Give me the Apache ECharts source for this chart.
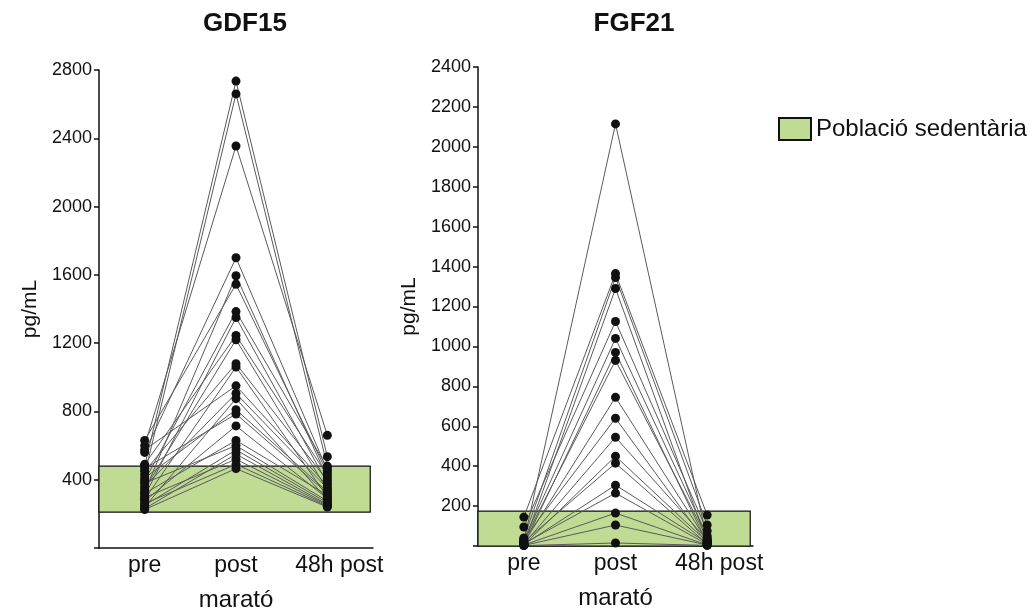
<!DOCTYPE html>
<html>
<head>
<meta charset="utf-8">
<script src="https://cdn.jsdelivr.net/npm/echarts@6/dist/echarts.min.js"></script>
<style>
  html, body { margin: 0; padding: 0; background: #fff; }
  #chart { width: 1033px; height: 611px; }
</style>
</head>
<body>
<div id="chart"></div>
<script>
const categories = ['pre', 'post', '48h post']

// GDF15, one entry per runner
const gdfPre  = [480, 430, 600, 560, 330, 630, 395, 305, 490, 345, 450, 285, 575, 360, 240, 410, 465, 275, 320, 380, 250, 230, 295, 260, 225]
const gdfPost = [2735, 2660, 2355, 1700, 1595, 1545, 1385, 1350, 1245, 1220, 1080, 1060, 950, 905, 875, 810, 785, 715, 630, 600, 575, 550, 520, 490, 465]
const gdfH48  = [535, 480, 660, 455, 410, 440, 470, 380, 425, 340, 395, 300, 365, 350, 285, 330, 320, 290, 310, 275, 265, 255, 250, 245, 240]
const gdfRef  = [210, 480]

// FGF21
const fgfPre  = [20, 145, 40, 10, 95, 30, 5, 25, 15, 35, 10, 5, 20, 8, 12, 5, 3, 2]
const fgfPost = [2115, 1365, 1345, 1290, 1125, 1040, 970, 930, 745, 640, 545, 450, 415, 305, 265, 165, 105, 15]
const fgfH48  = [30, 155, 105, 20, 75, 50, 15, 40, 25, 10, 30, 20, 10, 15, 8, 5, 5, 3]
const fgfRef  = [0, 175]

const FONT = 'Liberation Sans, Arial, sans-serif'
const GREEN = '#bfdb94'
const REF_NAME = 'Població sedentària'

const chart = echarts.init(document.getElementById('chart'))

function xAxis(gridIndex) {
  return {
    type: 'value',
    gridIndex: gridIndex,
    min: -0.5,
    max: 2.5,
    axisLine: { show: true, onZero: false, lineStyle: { color: '#111', width: 1.5 } },
    axisTick: { show: false },
    splitLine: { show: false },
    name: 'marató',
    nameLocation: 'middle',
    nameGap: 40,
    nameTextStyle: { fontFamily: FONT, fontSize: 24, color: '#111' },
    axisLabel: {
      customValues: [0, 1, 2],
      margin: 6,
      fontFamily: FONT,
      fontSize: 23,
      color: '#111',
      formatter: v => {
        const name = categories[Math.round(v)]
        return name === '48h post' ? '{s|' + name + '}' : name
      },
      rich: { s: { fontFamily: FONT, fontSize: 23, color: '#111', padding: [0, 0, 0, 24] } }
    }
  }
}

function yAxis(gridIndex, max, interval) {
  return {
    type: 'value',
    gridIndex: gridIndex,
    min: 0,
    max: max,
    interval: interval,
    axisLine: { show: true, onZero: false, lineStyle: { color: '#111', width: 1.5 } },
    axisTick: { show: true, length: 5, lineStyle: { color: '#111', width: 1.5 } },
    splitLine: { show: false },
    name: 'pg/mL',
    nameLocation: 'middle',
    nameGap: 58,
    nameTextStyle: { fontFamily: FONT, fontSize: 21, color: '#111' },
    axisLabel: {
      margin: 7,
      fontFamily: FONT,
      fontSize: 18,
      color: '#111',
      formatter: v => (v === 0 ? '' : String(v))
    }
  }
}

function subjectSeries(pre, post, h48, idx) {
  return pre.map((p, i) => ({
    type: 'line',
    xAxisIndex: idx,
    yAxisIndex: idx,
    z: 3,
    silent: true,
    symbol: 'circle',
    symbolSize: 9,
    itemStyle: { color: '#111' },
    lineStyle: { color: '#5a5a5a', width: 1 },
    data: [[0, p], [1, post[i]], [2, h48[i]]]
  }))
}

function refSeries(range, idx) {
  return {
    name: REF_NAME,
    type: 'line',
    xAxisIndex: idx,
    yAxisIndex: idx,
    z: 1,
    data: [],
    itemStyle: { color: GREEN },
    markArea: {
      silent: true,
      itemStyle: { color: GREEN, borderColor: '#111', borderWidth: 1.2 },
      data: [[{ xAxis: -0.5, yAxis: range[0] }, { xAxis: 2.47, yAxis: range[1] }]]
    }
  }
}

const option = {
  animation: false,
  title: [
    { text: 'GDF15', left: 240, top: 6, textAlign: 'center', textStyle: { fontFamily: FONT, fontSize: 26, fontWeight: 'bold', color: '#111' } },
    { text: 'FGF21', left: 629, top: 6, textAlign: 'center', textStyle: { fontFamily: FONT, fontSize: 26, fontWeight: 'bold', color: '#111' } }
  ],
  legend: {
    left: 778,
    top: 117,
    padding: 0,
    itemWidth: 32,
    itemHeight: 22,
    itemGap: 10,
    textStyle: { fontFamily: FONT, fontSize: 24, color: '#111' },
    data: [{ name: REF_NAME, icon: 'rect', itemStyle: { color: GREEN, borderColor: '#111', borderWidth: 2 } }]
  },
  grid: [
    { left: 99, top: 70, width: 274, height: 478, outerBoundsMode: 'none' },
    { left: 478, top: 67, width: 275, height: 479, outerBoundsMode: 'none' }
  ],
  xAxis: [xAxis(0), xAxis(1)],
  yAxis: [yAxis(0, 2800, 400), yAxis(1, 2400, 200)],
  series: [
    refSeries(gdfRef, 0),
    refSeries(fgfRef, 1),
    ...subjectSeries(gdfPre, gdfPost, gdfH48, 0),
    ...subjectSeries(fgfPre, fgfPost, fgfH48, 1)
  ]
}

chart.setOption(option)
</script>
</body>
</html>
